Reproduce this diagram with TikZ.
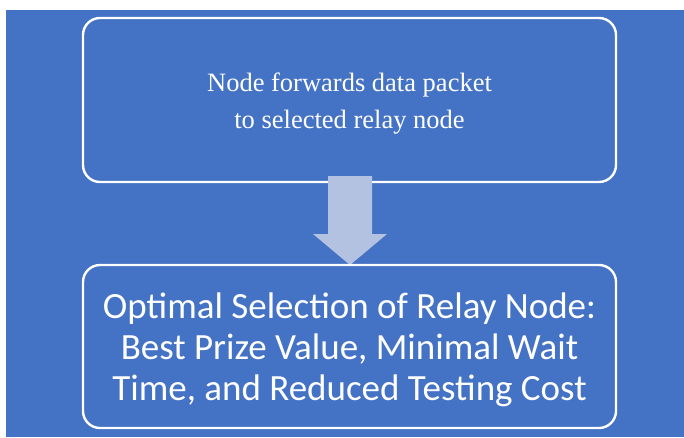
\documentclass[tikz,border=0pt]{standalone}
\usepackage{fontspec}
\setmainfont{Liberation Serif}
\newfontfamily\calib{Carlito}
\definecolor{bgblue}{RGB}{68,114,196}
\definecolor{arrowfill}{RGB}{180,194,226}
\begin{document}
\begin{tikzpicture}[x=1pt,y=-1pt,
  stepbox/.style={draw=white,line width=2.4pt,rounded corners=17pt,minimum width=533pt,minimum height=164pt,inner sep=0pt},
  steptext/.style={text=white,align=center,inner sep=0pt}]
\useasboundingbox (0,0) rectangle (684,437);
\fill[bgblue] (6,10) rectangle (684,437);
\node[stepbox,fill=bgblue] (top) at (349.5,100) {};
\node[steptext,font=\fontsize{26.5}{37}\selectfont] (toptext) at ([yshift=-4pt]top.center)
  {Node forwards data packet\\to selected relay node};
% block arrow
\coordinate (s1) at (328,176);
\coordinate (s2) at (372,176);
\fill[arrowfill] (s1) -- (s2) -- (372,234) -- (387,234) -- (350,265) -- (313,234) -- (328,234) -- cycle;
\node[stepbox,minimum height=163pt] (bot) at (349.5,346.5) {};
\node[steptext,font=\calib\fontsize{37}{41}\selectfont] (bottext) at ([yshift=-3.5pt]bot.center)
  {Optimal Selection of Relay Node:\\Best Prize Value, Minimal Wait\\Time, and Reduced Testing Cost};
\end{tikzpicture}
\end{document}
